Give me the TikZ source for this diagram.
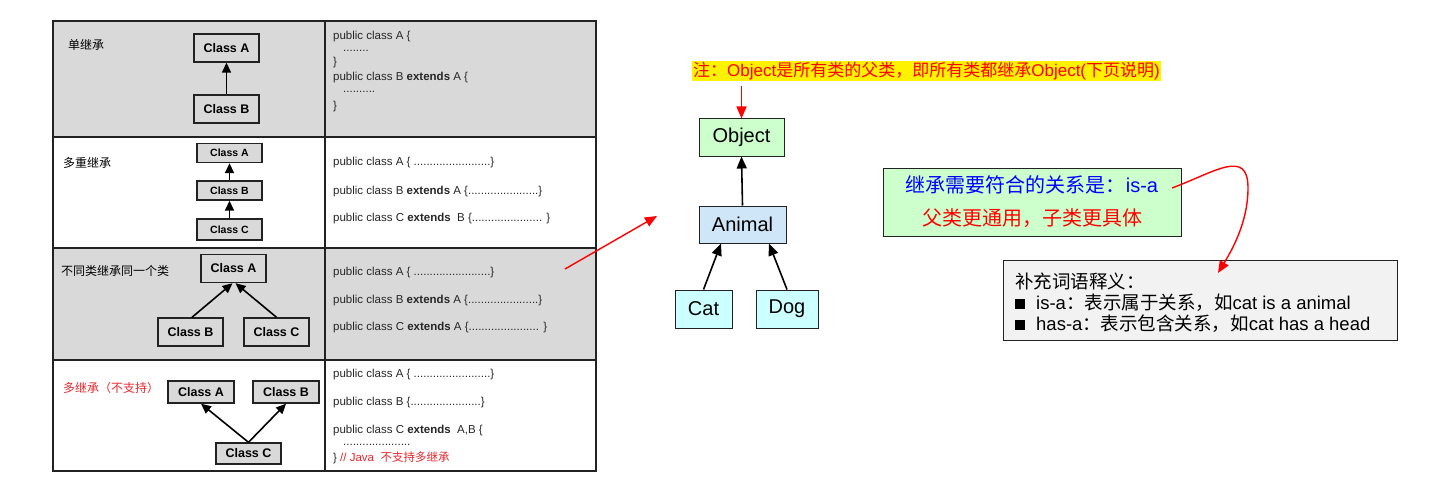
\documentclass[tikz,border=0pt]{standalone}
\usepackage{fontspec}
\setmainfont{Liberation Sans}
\newfontfamily\cjk{Noto Sans CJK SC}
\usetikzlibrary{arrows.meta}
\definecolor{rowgray}{HTML}{D9D9D9}
\definecolor{tline}{HTML}{222222}
\definecolor{codetxt}{HTML}{262626}
\definecolor{redtxt}{HTML}{E8262B}
\definecolor{objgreen}{HTML}{CCFFCC}
\definecolor{animblue}{HTML}{CFE6F8}
\definecolor{leafcyan}{HTML}{CCFFFF}
\definecolor{notebox}{HTML}{F2F2F2}
\begin{document}
\begin{tikzpicture}[x=1pt,y=-1pt,
  cls/.style={draw=tline, line width=1.4pt, fill=rowgray, font=\bfseries\fontsize{12.5}{14}\selectfont, minimum width=65pt, minimum height=28pt, inner sep=0pt},
  clssmall/.style={cls, minimum height=19pt, font=\bfseries\fontsize{10.5}{12}\selectfont},
  code/.style={anchor=west, inner sep=0pt, text=codetxt, font=\fontsize{11.5}{13}\selectfont},
  lbl/.style={anchor=west, inner sep=0pt, font=\cjk\fontsize{12}{14}\selectfont},
  inh/.style={-{Triangle[length=10pt,width=9pt]}, line width=1.6pt, draw=black},
  hinh/.style={-{Triangle[length=12pt,width=10pt]}, line width=1.6pt, draw=black},
  hier/.style={draw=tline, line width=1pt, font=\fontsize{20}{24}\selectfont, inner sep=0pt},
  redarrow/.style={-{Triangle[length=12pt,width=10pt]}, line width=1.4pt, draw=red}
]
\useasboundingbox (0,0) rectangle (1448,500);

% ---------- table ----------
\fill[rowgray] (53,21) rectangle (596,137);
\fill[rowgray] (53,248) rectangle (596,360);
\draw[tline, line width=1.8pt] (53,21) rectangle (596,471);
\draw[tline, line width=1.8pt] (325,21) -- (325,471);
\draw[tline, line width=1.8pt] (53,137) -- (596,137);
\draw[tline, line width=1.8pt] (53,248) -- (596,248);
\draw[tline, line width=1.8pt] (53,360) -- (596,360);

% row labels
\node[lbl] (l1) at (68,45) {单继承};
\node[lbl] (l2) at (63,163) {多重继承};
\node[lbl] (l3) at (61,271) {不同类继承同一个类};
\node[lbl, text=redtxt] (l4) at (63,388) {多继承（不支持）};

% row 1
\node[cls] (A1) at (226.5,48) {Class A};
\node[cls] (B1) at (226.5,109) {Class B};
\draw[inh] (B1.north) -- (A1.south);

% row 2
\node[clssmall] (A2) at (229.5,153) {Class A};
\node[clssmall] (B2) at (229.5,190.5) {Class B};
\node[clssmall, minimum height=21pt] (C2) at (229.5,229.5) {Class C};
\draw[inh] (B2.north) -- (A2.south);
\draw[inh] (C2.north) -- (B2.south);

% row 3
\node[cls] (A3) at (233.5,268.5) {Class A};
\node[cls] (B3) at (190.5,332) {Class B};
\node[cls] (C3) at (276.5,332) {Class C};
\draw[inh] ([xshift=1.5pt]B3.north) -- ([xshift=-1pt]A3.south);
\draw[inh] (C3.north) -- ([xshift=2pt]A3.south);

% row 4
\node[cls, minimum height=22pt, minimum width=66pt] (A4) at (201,392) {Class A};
\node[cls, minimum height=22pt, minimum width=66pt] (B4) at (286,392) {Class B};
\node[cls, minimum height=21pt] (C4) at (248.5,453.5) {Class C};
\draw[inh] (C4.north) -- (A4.south);
\draw[inh] (C4.north) -- (B4.south);

% code column
\node[code] (c11) at (333,37) {public class A \{};
\node[code] (c12) at (343,51) {........};
\node[code] (c13) at (333,63) {\}};
\node[code] (c14) at (333,78) {public class B \textbf{extends} A \{};
\node[code] (c15) at (343,92) {..........};
\node[code] (c16) at (333,107) {\}};

\node[code] (c21) at (333,163) {public class A \{ ........................\}};
\node[code] (c22) at (333,192) {public class B \textbf{extends} A \{......................\}};
\node[code] (c23) at (333,219) {public class C \textbf{extends}\ \ B \{...................... \}};

\node[code] (c31) at (333,273) {public class A \{ ........................\}};
\node[code] (c32) at (333,301) {public class B \textbf{extends} A \{......................\}};
\node[code] (c33) at (333,328) {public class C \textbf{extends} A \{...................... \}};

\node[code] (c41) at (333,375) {public class A \{ ........................\}};
\node[code] (c42) at (333,403) {public class B \{......................\}};
\node[code] (c43) at (333,431) {public class C \textbf{extends}\ \ A,B \{};
\node[code] (c44) at (343,445) {.....................};
\node[code] (c45) at (333,458) {\} {\color{redtxt}// Java\ \ {\cjk 不支持多继承}}};

% arrow from table to hierarchy
\coordinate (rs) at (565,269);
\coordinate (re) at (657,216);
\draw[redarrow] (rs) -- (re);

% ---------- hierarchy ----------
\node[fill=yellow, text=red, inner xsep=1pt, inner ysep=1pt, font=\fontsize{17}{20}\selectfont] (note) at (926.5,71)
  {{\cjk 注：}Object{\cjk 是所有类的父类，即所有类都继承}Object({\cjk 下页说明})};
\node[hier, fill=objgreen, minimum width=85pt, minimum height=37pt] (obj) at (741.5,137.5) {Object};
\node[hier, fill=animblue, minimum width=87pt, minimum height=37pt] (animal) at (742.5,224.5) {Animal};
\node[hier, fill=leafcyan, minimum width=57pt, minimum height=38pt] (cat) at (703.5,309) {Cat};
\node[hier, fill=leafcyan, minimum width=62pt, minimum height=38pt] (dog) at (787,309) {Dog};

\draw[redarrow] (obj.north |- note.south) ++(0,5) -- (obj.north);
\draw[hinh] (animal.north) -- (obj.south);
\draw[hinh] (cat.north) -- ([xshift=-21.5pt]animal.south);
\draw[hinh] (dog.north) -- ([xshift=26.5pt]animal.south);

% ---------- green box ----------
\node[draw=tline, line width=1pt, fill=objgreen, minimum width=298pt, minimum height=68pt, align=center, inner sep=0pt,
      font=\cjk\fontsize{20}{33}\selectfont] (isa) at (1032,202)
  {{\color{blue}继承需要符合的关系是：\fontspec{Liberation Sans}is-a}\\{\color{red}父类更通用，子类更具体}};
\coordinate (cs) at (1172,188);

% ---------- gray box ----------
\node[draw=tline, line width=1pt, fill=notebox, minimum width=394pt, minimum height=80pt, inner sep=0pt] (gloss) at (1200,300) {};
\node[anchor=west, inner sep=0pt, align=left, font=\fontsize{18.5}{21}\selectfont] (glosstext) at (1015,303)
  {{\cjk 补充词语释义：}\\
   \raisebox{0.5pt}{\rule{10pt}{10pt}}\hspace{11pt}is-a{\cjk ：表示属于关系，如}cat is a animal\\
   \raisebox{0.5pt}{\rule{10pt}{10pt}}\hspace{11pt}has-a{\cjk ：表示包含关系，如}cat has a head};
\coordinate (ce) at (1218,273);
\draw[redarrow] (cs) .. controls (1215,172) and (1248,148) .. (1248,188) .. controls (1248,222) and (1232,250) .. (ce);
\end{tikzpicture}
\end{document}
